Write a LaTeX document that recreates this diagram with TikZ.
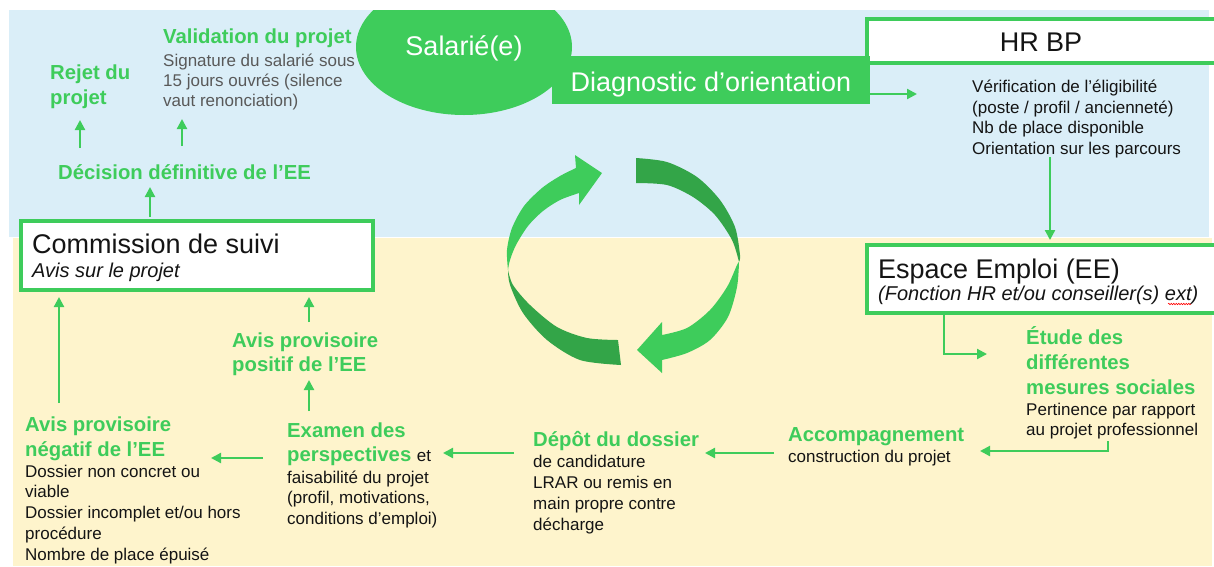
\documentclass[tikz,border=0pt]{standalone}
\usepackage{fontspec}
\setmainfont{Liberation Sans}
\usetikzlibrary{arrows.meta,decorations.pathmorphing}
\definecolor{grn}{RGB}{62,204,91}
\definecolor{dgrn}{RGB}{51,165,72}
\definecolor{bluebg}{RGB}{218,238,248}
\definecolor{yelbg}{RGB}{254,244,204}
\definecolor{graytxt}{RGB}{89,89,89}
\definecolor{txt}{RGB}{20,20,20}
\begin{document}
\begin{tikzpicture}[x=1pt,y=-1pt,
  % multi-line nodes: the base anchor is the baseline of the last line
  hd/.style={anchor=base west, inner sep=0pt, align=left, text=grn, font=\fontsize{20.3}{25}\selectfont\bfseries},
  bd/.style={anchor=base west, inner sep=0pt, align=left, text=txt, font=\fontsize{17}{20.5}\selectfont},
  gy/.style={bd, text=graytxt, font=\fontsize{17}{20}\selectfont},
  ttl/.style={anchor=base west, inner sep=0pt, text=txt, font=\fontsize{27}{32}\selectfont},
  sub/.style={anchor=base west, inner sep=0pt, text=txt, font=\fontsize{20}{24}\selectfont\itshape},
  gbox/.style={draw=grn, line width=4pt, fill=white, anchor=north west, inner sep=0pt},
  arr/.style={draw=grn, line width=2.2pt, -{Triangle[length=10pt,width=10pt]}},
]
\useasboundingbox (0,0) rectangle (1214,566);
% backgrounds
\fill[bluebg] (9,10) rectangle (1209,237);
\fill[yelbg] (13,238) rectangle (1212,566);

% Salarie ellipse
\begin{scope}
  \clip (0,10) rectangle (1214,566);
  \fill[grn] (464,47) ellipse [x radius=108pt, y radius=68pt];
\end{scope}
\node[anchor=base, inner sep=0pt, text=white, font=\fontsize{27}{32}\selectfont] (sal) at (464,55) {Salarié(e)};

% HR BP box
\node[gbox, minimum width=380pt, minimum height=44pt] (hrbox) at (865,17) {};
\node[anchor=base, inner sep=0pt, text=txt, font=\fontsize{27}{32}\selectfont] (hr) at (1041,51) {HR BP};

% Diagnostic box
\node[fill=grn, anchor=north west, minimum width=318pt, minimum height=48pt, inner sep=0pt] (diagbox) at (552,56) {};
\node[anchor=base, inner sep=0pt, text=white, font=\fontsize{27}{32}\selectfont] (diag) at (711,91) {Diagnostic d’orientation};

\node[bd] (hrtxt) at (972,154) {Vérification de l’éligibilité\\(poste / profil / ancienneté)\\Nb de place disponible\\Orientation sur les parcours};

% EE box
\node[gbox, minimum width=380pt, minimum height=68pt] (eebox) at (865,243) {};
\node[ttl] (ee) at (878,278) {Espace Emploi (EE)};
\node[sub] (eesub) at (878,300) {(Fonction HR et/ou conseiller(s) ext)};
\draw[red, line width=0.6pt, decorate, decoration={snake, amplitude=0.7pt, segment length=2.5pt}] (1168,304) -- (1191,304);

% Commission box
\node[gbox, minimum width=352pt, minimum height=69pt] (commbox) at (19,219) {};
\node[ttl] (comm) at (32,253) {Commission de suivi};
\node[sub] (commsub) at (32,277) {Avis sur le projet};

% top left texts
\node[hd] (rejet) at (50,104) {Rejet du\\projet};
\node[hd] (valid) at (163,43) {Validation du projet};
\node[gy] (sign) at (163,106) {Signature du salarié sous\\15 jours ouvrés (silence\\vaut renonciation)};
\node[hd] (decis) at (58,179) {Décision définitive de l’EE};

% right texts
\node[hd] (etude) at (1026,394) {Étude des\\différentes\\mesures sociales};
\node[bd] (etudetxt) at (1026,435.5) {Pertinence par rapport\\au projet professionnel};

% bottom texts
\node[hd] (accomp) at (788,441) {Accompagnement};
\node[bd] (accomptxt) at (788,462) {construction du projet};
\node[hd] (depot) at (533,446) {Dépôt du dossier};
\node[bd, font=\fontsize{17}{21}\selectfont] (depottxt) at (533,530) {de candidature\\LRAR ou remis en\\main propre contre\\décharge};
\node[hd, font=\fontsize{20.3}{24}\selectfont\bfseries] (examen) at (287,461) {Examen des\\perspectives {\mdseries\fontsize{17}{20}\selectfont\color{txt}et}};
\node[bd] (examentxt) at (287,524) {faisabilité du projet\\(profil, motivations,\\conditions d’emploi)};
\node[hd] (avneg) at (25,456) {Avis provisoire\\négatif de l’EE};
\node[bd, font=\fontsize{17}{20.7}\selectfont] (avnegtxt) at (25,560) {Dossier non concret ou\\viable\\Dossier incomplet et/ou hors\\procédure\\Nombre de place épuisé};
\node[hd, font=\fontsize{20.3}{24}\selectfont\bfseries] (avpos) at (232,371) {Avis provisoire\\positif de l’EE};

% connector end points
\coordinate (a1s) at (80,148);   \coordinate (a1e) at (80,120);
\coordinate (a2s) at (182,146);  \coordinate (a2e) at (182,119);
\coordinate (a3s) at (150,217);  \coordinate (a3e) at (150,187);
\coordinate (a4s) at (870,94);   \coordinate (a4e) at (917,94);
\coordinate (a5s) at (1050,157); \coordinate (a5e) at (1050,240);
\coordinate (a6s) at (944,314);  \coordinate (a6e) at (987,354);
\coordinate (a7s) at (1108,441); \coordinate (a7e) at (980,451);
\coordinate (a8s) at (774,453);  \coordinate (a8e) at (705,453);
\coordinate (a9s) at (514,453);  \coordinate (a9e) at (443,453);
\coordinate (a10s) at (263,458); \coordinate (a10e) at (211,458);
\coordinate (a11s) at (59,403);  \coordinate (a11e) at (59,297);
\coordinate (a12s) at (309,411); \coordinate (a12e) at (309,380);
\coordinate (a13s) at (309,322); \coordinate (a13e) at (309,297);

\draw[arr] (a1s) -- (a1e);
\draw[arr] (a2s) -- (a2e);
\draw[arr] (a3s) -- (a3e);
\draw[arr] (a4s) -- (a4e);
\draw[arr] (a5s) -- (a5e);
\draw[arr] (a6s) |- (a6e);
\draw[arr] (a7s) |- (a7e);
\draw[arr] (a8s) -- (a8e);
\draw[arr] (a9s) -- (a9e);
\draw[arr] (a10s) -- (a10e);
\draw[arr] (a11s) -- (a11e);
\draw[arr] (a12s) -- (a12e);
\draw[arr] (a13s) -- (a13e);

% cycle arrows
\fill[dgrn] plot[smooth] coordinates {(621,365) (580,360) (547,340) (523,313) (510,285) (508,270)}
  -- plot[smooth] coordinates {(508,270) (513,285) (530,305) (557,327) (587,338) (618,340)} -- cycle;
\fill[grn] plot[smooth] coordinates {(508,270) (507,250) (512,228) (524,206) (542,188) (560,176) (576,168)}
  -- (575,155) -- (602,173) -- (579,205)
  -- plot[smooth] coordinates {(579,193) (560,200) (543,211) (528,226) (516,245) (510,260) (508,270)} -- cycle;
\fill[dgrn] plot[smooth] coordinates {(636,158) (667,162) (697,177) (720,200) (735,227) (740,255) (739,262)}
  -- plot[smooth] coordinates {(739,262) (732,240) (715,215) (693,197) (667,185) (636,183)} -- cycle;
\fill[grn] plot[smooth] coordinates {(739,262) (737,287) (728,317) (710,340) (687,353) (662,360)}
  -- (662,373) -- (637,350) -- (662,322)
  -- plot[smooth] coordinates {(662,335) (687,328) (710,310) (727,287) (737,265) (739,262)} -- cycle;
\end{tikzpicture}
\end{document}
